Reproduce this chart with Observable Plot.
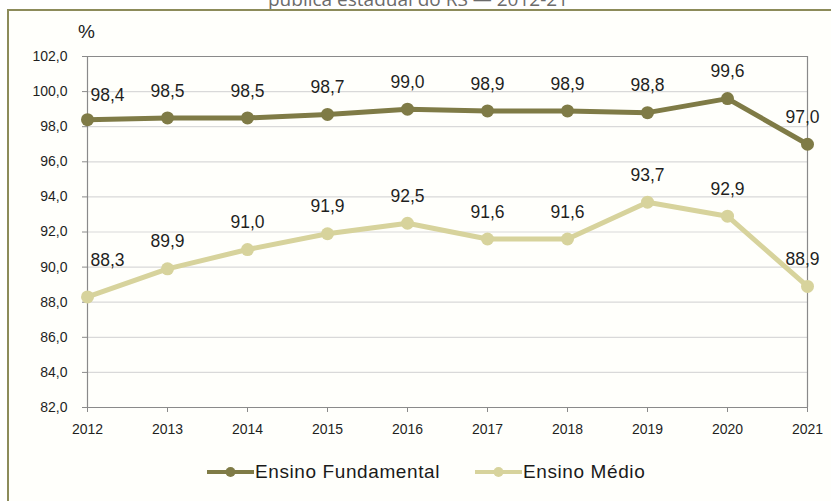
<!DOCTYPE html>
<html>
<head>
<meta charset="utf-8">
<script src="https://cdn.jsdelivr.net/npm/d3@7"></script>
<script src="https://cdn.jsdelivr.net/npm/@observablehq/plot@0.6"></script>
<style>
  html, body { margin: 0; padding: 0; background: #ffffff; }
  body { width: 831px; height: 501px; overflow: hidden; position: relative; font-family: "Liberation Sans", Arimo, Roboto, Arial, sans-serif; }
  #title { position: absolute; left: 0; width: 836px; top: -10px; text-align: center; font-family: "Open Sans", sans-serif; font-size: 19px; line-height: 19px; color: #6b6b6b; white-space: nowrap; }
  #frame { position: absolute; left: 7px; top: 9px; width: 900px; height: 600px; border: 2px solid #8c8b5a; background: #fffffb; box-sizing: border-box; }
  #chart { position: absolute; left: 0; top: 0; }
  #pct { position: absolute; left: 78px; top: 21px; font-size: 19px; color: #222; }
  #legend { position: absolute; left: 0; top: 460px; width: 831px; height: 24px; }
  .item { position: absolute; top: 0; display: flex; align-items: center; height: 24px; font-size: 19px; letter-spacing: 0.6px; color: #1a1a1a; }
  .item svg { display: block; }
</style>
</head>
<body>
<div id="title">pública estadual do RS — 2012-21</div>
<div id="frame"></div>
<div id="chart"></div>
<div id="pct">%</div>
<div id="legend"></div>
<script>
const years = [2012, 2013, 2014, 2015, 2016, 2017, 2018, 2019, 2020, 2021];
const seriesNames = ["Ensino Fundamental", "Ensino Médio"];
const fundamental = [98.4, 98.5, 98.5, 98.7, 99.0, 98.9, 98.9, 98.8, 99.6, 97.0];
const medio = [88.3, 89.9, 91.0, 91.9, 92.5, 91.6, 91.6, 93.7, 92.9, 88.9];
const yTicks = [82, 84, 86, 88, 90, 92, 94, 96, 98, 100, 102];
const colors = ["#7f7b46", "#d7d39c"];
const FONT = "'Liberation Sans', Arimo, Roboto, Arial, sans-serif";

const data = [];
years.forEach((y, i) => {
  data.push({year: y, value: fundamental[i], series: seriesNames[0]});
  data.push({year: y, value: medio[i], series: seriesNames[1]});
});

const fmt = v => v.toFixed(1).replace(".", ",");

function labelDx(d) {
  if (d.year === years[0]) return 20;
  if (d.year === years[years.length - 1]) return -5;
  return 0;
}
function labelDy(d) {
  if (d.year === years[0]) return d.series === seriesNames[1] ? -37 : -24;
  return -27;
}

const labelMarks = data.map(d =>
  Plot.text([d], {x: "year", y: "value", text: d => fmt(d.value), dx: labelDx(d), dy: labelDy(d), fontSize: 17.5, fill: "#1f1f1f", fontFamily: FONT})
);

const chart = Plot.plot({
  width: 831,
  height: 440,
  marginLeft: 87,
  marginRight: 24,
  marginTop: 56,
  marginBottom: 33,
  style: {background: "transparent", fontFamily: FONT, overflow: "visible"},
  x: {domain: [years[0], years[years.length - 1]], ticks: years, tickFormat: d => String(d), label: null},
  y: {domain: [82, 102], ticks: yTicks, tickFormat: fmt, label: null},
  color: {domain: seriesNames, range: colors},
  marks: [
    Plot.gridY(yTicks, {stroke: "#d9d9d9", strokeOpacity: 1, strokeWidth: 1.2}),
    Plot.ruleX([years[years.length - 1]], {stroke: "#8a8a8a", strokeWidth: 1.2}),
    Plot.ruleY([102], {stroke: "#8a8a8a", strokeWidth: 1.2}),
    Plot.ruleX([years[0]], {stroke: "#8a8a8a", strokeWidth: 1.2}),
    Plot.ruleY([82], {stroke: "#8a8a8a", strokeWidth: 1.2}),
    Plot.axisX({ticks: years, tickFormat: d => String(d), tickSize: 5, tickPadding: 12, fontSize: 14, fill: "#1f1f1f", stroke: "#8a8a8a", fontFamily: FONT, label: null}),
    Plot.axisY({ticks: yTicks, tickFormat: fmt, tickSize: 5, tickPadding: 15, fontSize: 14, fill: "#1f1f1f", stroke: "#8a8a8a", fontFamily: FONT, label: null}),
    Plot.line(data, {x: "year", y: "value", z: "series", stroke: "series", strokeWidth: 5, strokeLinejoin: "round"}),
    Plot.dot(data, {x: "year", y: "value", fill: "series", r: 6.5, stroke: "none"}),
    ...labelMarks
  ]
});
document.getElementById("chart").appendChild(chart);

// legend
const legend = document.getElementById("legend");
const legendX = [207, 475];
seriesNames.forEach((name, i) => {
  const item = document.createElement("div");
  item.className = "item";
  item.style.left = legendX[i] + "px";
  item.innerHTML = `<svg width="48" height="24"><line x1="0" y1="12" x2="47" y2="12" stroke="${colors[i]}" stroke-width="4"/><circle cx="23.5" cy="12" r="5" fill="${colors[i]}"/></svg><span></span>`;
  item.querySelector("span").textContent = name;
  legend.appendChild(item);
});
</script>
</body>
</html>
